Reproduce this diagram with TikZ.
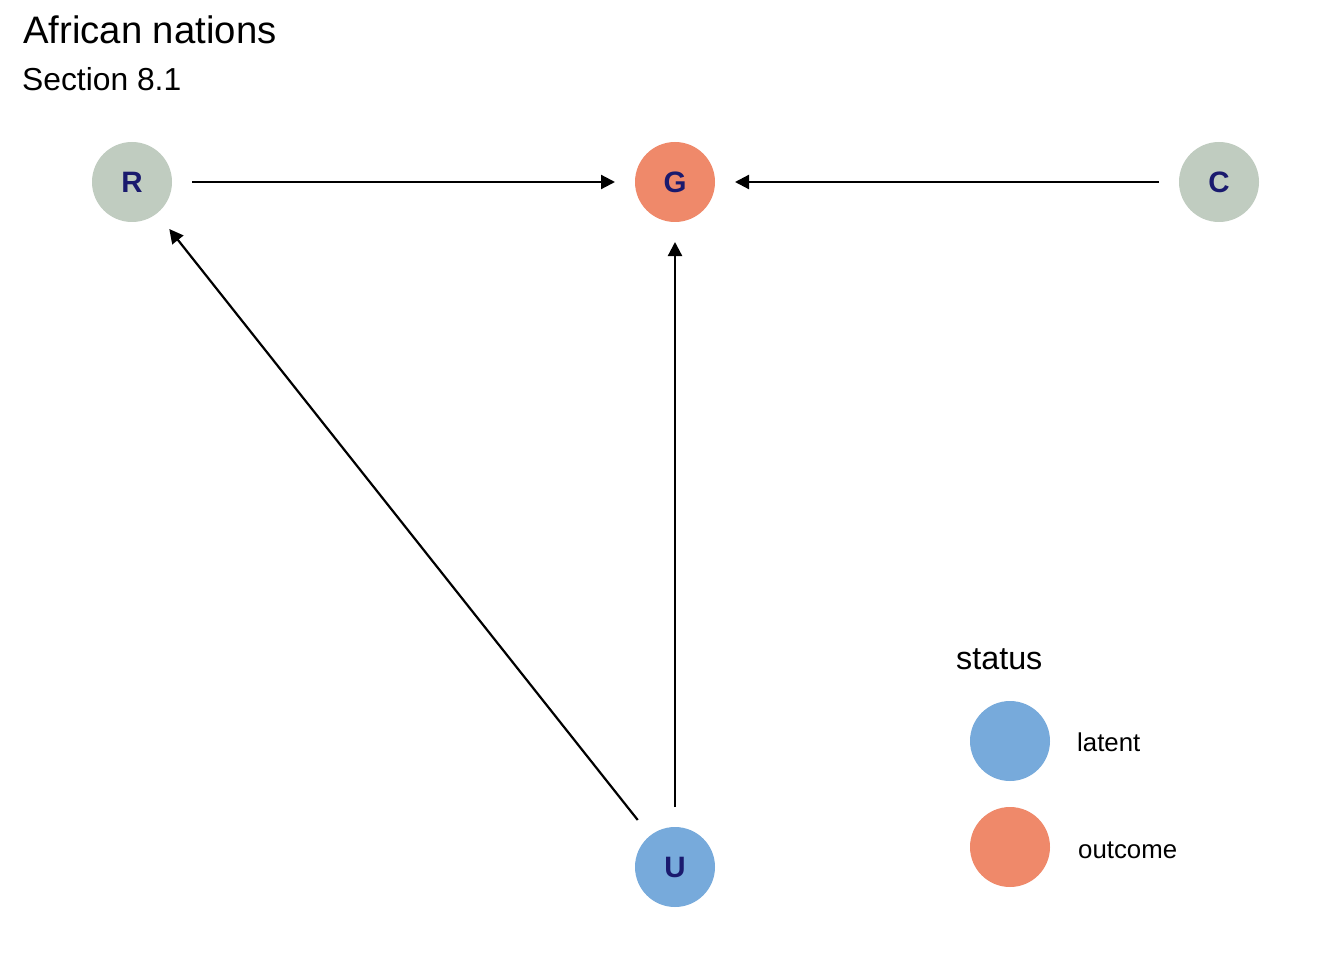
\documentclass[tikz,border=0pt]{standalone}
\usepackage{fontspec}
\setmainfont{Liberation Sans}
\usetikzlibrary{arrows.meta}
\definecolor{greyc}{HTML}{C0CCC0}
\definecolor{orangec}{HTML}{EF896A}
\definecolor{bluec}{HTML}{77AADB}
\definecolor{navyc}{HTML}{1A1A6E}
\tikzset{
  dagnode/.style={circle, minimum size=80pt, inner sep=0pt, outer sep=20pt,
    text=navyc, font=\fontsize{29.5}{29.5}\selectfont\bfseries},
  legcirc/.style={circle, minimum size=80pt, inner sep=0pt},
  edge/.style={line width=2.2pt, -{Triangle[length=14pt,width=14pt]}},
  legtext/.style={anchor=base west, inner sep=0pt, font=\fontsize{25.8}{25.8}\selectfont}
}
\begin{document}
\begin{tikzpicture}[x=1pt,y=-1pt]
\useasboundingbox[fill=white] (0,0) rectangle (1344,960);
\node[anchor=base west, inner sep=0pt, font=\fontsize{38.3}{38.3}\selectfont] (title) at (23,44) {African nations};
\node[anchor=base west, inner sep=0pt, font=\fontsize{31.8}{31.8}\selectfont] (subtitle) at (22,91) {Section 8.1};
\node[dagnode, fill=greyc] (R) at (132,182) {\raisebox{-1.5pt}{R}};
\node[dagnode, fill=orangec] (G) at (675,182) {\raisebox{-1.5pt}{G}};
\node[dagnode, fill=greyc] (C) at (1219,182) {\raisebox{-1.5pt}{C}};
\node[dagnode, fill=bluec] (U) at (675,867) {\raisebox{-1.5pt}{U}};
\draw[edge] (R) -- (G);
\draw[edge] (C) -- (G);
\draw[edge] (U) -- (G);
\draw[edge] (U) -- (R);
\node[anchor=base west, inner sep=0pt, font=\fontsize{32.3}{32.3}\selectfont] (status) at (956,669) {status};
\node[legcirc, fill=bluec] (l1) at (1010,741) {};
\node[legcirc, fill=orangec] (l2) at (1010,847) {};
\node[legtext] (lt1) at (1077,751) {latent};
\node[legtext] (lt2) at (1078,858) {outcome};
\end{tikzpicture}
\end{document}
